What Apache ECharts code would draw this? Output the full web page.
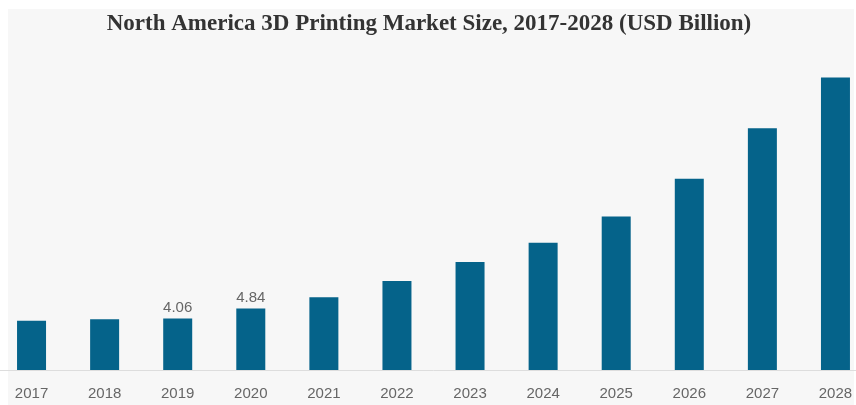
<!DOCTYPE html>
<html>
<head>
<meta charset="utf-8">
<script src="https://cdn.jsdelivr.net/npm/echarts@6/dist/echarts.min.js"></script>
<style>
  html, body { margin: 0; padding: 0; background: #ffffff; width: 856px; height: 405px; overflow: hidden; position: relative; }
  #chart { position: absolute; left: -20px; top: 0; width: 900px; height: 405px; }
</style>
</head>
<body>
<div id="chart"></div>
<script>
// Market size by year, USD billion
const years = ['2017', '2018', '2019', '2020', '2021', '2022', '2023', '2024', '2025', '2026', '2027', '2028'];
const marketSize = [3.88, 3.99, 4.06, 4.84, 5.72, 7.01, 8.50, 10.02, 12.07, 15.04, 19.03, 23.02];
// Years whose value is printed above the bar
const labelledYears = ['2019', '2020'];

const chart = echarts.init(document.getElementById('chart'), null, { renderer: 'canvas' });
const labelFont = '"Liberation Sans", Arial, sans-serif';

chart.setOption({
  backgroundColor: 'transparent',
  animation: false,
  graphic: [{
    type: 'rect',
    z: -10,
    silent: true,
    shape: { x: 28, y: 9, width: 846, height: 396 },
    style: { fill: '#f7f7f7' }
  }],
  title: {
    text: 'North America 3D Printing Market Size, 2017-2028 (USD Billion)',
    left: 444,
    textAlign: 'center',
    top: 8,
    textStyle: {
      fontFamily: '"Liberation Serif", "Times New Roman", serif',
      fontWeight: 'bold',
      fontSize: 23,
      color: '#333333'
    }
  },
  grid: { left: 15, width: 877, top: 65, height: 305 },
  xAxis: {
    type: 'category',
    data: years,
    axisLine: { show: true, lineStyle: { color: '#dddddd', width: 1 } },
    axisTick: { show: false },
    axisLabel: {
      color: '#666666',
      fontSize: 15,
      fontFamily: labelFont,
      margin: 16
    }
  },
  yAxis: {
    type: 'value',
    min: 0,
    max: 24,
    show: false,
    splitLine: { show: false }
  },
  series: [{
    type: 'bar',
    barWidth: 29,
    itemStyle: { color: '#05638a' },
    data: marketSize.map((v, i) => ({
      value: v,
      label: {
        show: labelledYears.includes(years[i]),
        position: 'top',
        distance: 3,
        color: '#666666',
        fontSize: 15,
        fontFamily: labelFont
      }
    }))
  }]
});
</script>
</body>
</html>
